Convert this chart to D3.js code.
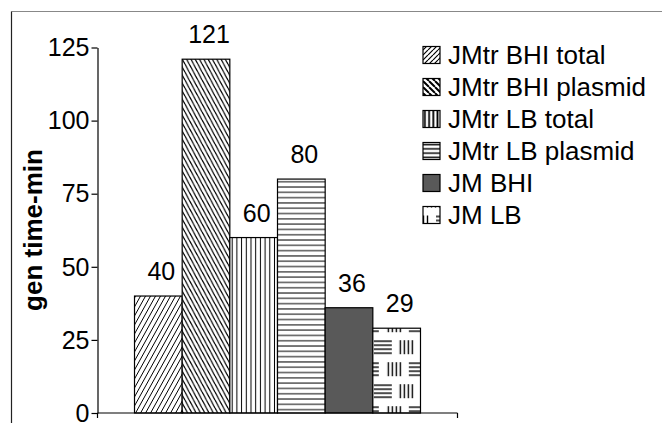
<!DOCTYPE html>
<html><head><meta charset="utf-8">
<script src="https://cdn.jsdelivr.net/npm/d3@7"></script>
<style>
html,body{margin:0;padding:0;background:#fff;}
svg{display:block;}
text{font-family:"Liberation Sans",Arial,sans-serif;fill:#000;}
</style></head>
<body>
<svg id="chart" width="662" height="423"></svg>
<script>
// ---- data ----
const categories = ["gen time"];
const series = ["JMtr BHI total","JMtr BHI plasmid","JMtr LB total","JMtr LB plasmid","JM BHI","JM LB"];
const values = [40,121,60,80,36,29];
const yTicks = [0,25,50,75,100,125];
const yTitle = "gen time-min";

// ---- layout ----
const W = 662, H = 423;
const svg = d3.select("#chart");
const defs = svg.append("defs");

const y = d3.scaleLinear().domain([0,125]).range([413,47.5]);
const x0 = d3.scaleBand().domain(categories).range([97.5,457.5]).paddingOuter(0.1294).paddingInner(0);
const x1 = d3.scaleBand().domain(series).range([x0(categories[0]), x0(categories[0]) + x0.bandwidth()]);

// ---- patterns ----
function diag(id, w, h, dir, sw){
  const p = defs.append("pattern").attr("id", id).attr("patternUnits","userSpaceOnUse")
    .attr("width", w).attr("height", h);
  p.append("rect").attr("width", w).attr("height", h).attr("fill","#fff");
  let d = "";
  for (const k of [-1,0,1]) {
    if (dir === "up") d += `M${k*w},${h}L${k*w+w},0`;
    else d += `M${k*w},0L${k*w+w},${h}`;
  }
  p.append("path").attr("d", d).attr("stroke","#000").attr("stroke-width", sw).attr("fill","none");
}
function vert(id, w, sw, ox){
  const p = defs.append("pattern").attr("id", id).attr("patternUnits","userSpaceOnUse")
    .attr("width", w).attr("height", 10).attr("x", ox||0);
  p.append("rect").attr("width", w).attr("height", 10).attr("fill","#fff");
  p.append("line").attr("x1", w/2).attr("x2", w/2).attr("y1",0).attr("y2",10)
    .attr("stroke","#000").attr("stroke-width", sw);
}
function horiz(id, h, sw, oy){
  const p = defs.append("pattern").attr("id", id).attr("patternUnits","userSpaceOnUse")
    .attr("width", 10).attr("height", h).attr("y", oy||0);
  p.append("rect").attr("width", 10).attr("height", h).attr("fill","#fff");
  p.append("line").attr("y1", h/2).attr("y2", h/2).attr("x1",0).attr("x2",10)
    .attr("stroke","#000").attr("stroke-width", sw);
}
function weave(id, ox, oy, s){
  const tw = 48*s, th = 44*s;
  const p = defs.append("pattern").attr("id", id).attr("patternUnits","userSpaceOnUse")
    .attr("width", tw).attr("height", th).attr("x", ox).attr("y", oy);
  p.append("rect").attr("width", tw).attr("height", th).attr("fill","#fff");
  const g = p.append("g").attr("transform", `scale(${s})`).attr("stroke","#000").attr("stroke-width",1.4);
  function hb(x, yy, wdt){ for (let i=0;i<4;i++) g.append("line").attr("x1",x).attr("x2",x+wdt).attr("y1",yy+1+i*4).attr("y2",yy+1+i*4); }
  function vb(x, yy, hgt){ for (let i=0;i<4;i++) g.append("line").attr("y1",yy).attr("y2",yy+hgt).attr("x1",x+1.5+i*4).attr("x2",x+1.5+i*4); }
  hb(1, 22, 18); vb(26, 22, 14);
  vb(14, 0, 14); hb(36, 0, 18); hb(-12, 0, 18);
}

diag("p0", 5, 9, "up", 1);
diag("p1", 4.3, 8, "down", 1.2);
vert("p2", 4.7, 1, x1(series[2]));
horiz("p3", 5.3, 1, y(values[3]));
weave("p5", x1(series[5]), y(values[5]) - 10, 1);

diag("l0", 5, 5, "up", 1.2);
diag("l1", 6, 6, "down", 2);
vert("l2", 4.2, 1.8, 424);
horiz("l3", 4.2, 1.5, 0);

const barFills = ["url(#p0)","url(#p1)","url(#p2)","url(#p3)","#595959","url(#p5)"];
const legFills = ["url(#l0)","url(#l1)","url(#l2)","url(#l3)","#595959","url(#l5)"];

// ---- frame ----
svg.append("line").attr("x1",11.5).attr("x2",W).attr("y1",11.5).attr("y2",11.5).attr("stroke","#888").attr("stroke-width",1.2);
svg.append("line").attr("x1",11.5).attr("x2",11.5).attr("y1",11.5).attr("y2",H).attr("stroke","#222").attr("stroke-width",1.2);

// ---- bars ----
svg.append("g").selectAll("rect").data(values).join("rect")
  .attr("x", (d,i) => x1(series[i]))
  .attr("y", d => y(d))
  .attr("width", x1.bandwidth())
  .attr("height", d => y(0) - y(d))
  .attr("fill", (d,i) => barFills[i])
  .attr("stroke", "#000").attr("stroke-width", 1.2);

// value labels
svg.append("g").selectAll("text").data(values).join("text")
  .attr("x", (d,i) => x1(series[i]) + x1.bandwidth()/2 + 3)
  .attr("y", d => y(d) - 16)
  .attr("text-anchor","middle")
  .style("font-size","25px")
  .text(d => d);

// ---- axes ----
const yAxis = d3.axisLeft(y).tickValues(yTicks).tickSize(6).tickSizeOuter(0).tickPadding(2);
const gy = svg.append("g").attr("transform", `translate(${x0.range()[0]},0)`).call(yAxis);
gy.selectAll("text").style("font-size","25px").style("font-family",'"Liberation Sans",Arial,sans-serif').attr("dy","0.33em");
gy.selectAll("line,path").attr("stroke","#000").attr("stroke-width",1.2);
svg.append("line").attr("x1",x0.range()[0]).attr("x2",x0.range()[0]).attr("y1",y(0)).attr("y2",y(0)+5).attr("stroke","#000").attr("stroke-width",1.2);

// x axis
const xr = x0.range();
svg.append("line").attr("x1",xr[0]).attr("x2",xr[1]).attr("y1",y(0)).attr("y2",y(0)).attr("stroke","#000").attr("stroke-width",1.2);
svg.append("line").attr("x1",xr[1]).attr("x2",xr[1]).attr("y1",y(0)).attr("y2",y(0)+5).attr("stroke","#000").attr("stroke-width",1.2);

// y title
svg.append("text").attr("transform","translate(33,230) rotate(-90)")
  .attr("text-anchor","middle").attr("dominant-baseline","central")
  .style("font-size","26px").style("font-weight","bold").text(yTitle);

// ---- legend ----
const legX = 423, legY0 = 55, legStep = 32, sw = 17;
weave("l5", legX - 14, legY0 + 5*legStep - 8.5 - 30, 1);
const lg = svg.append("g").selectAll("g").data(series).join("g")
  .attr("transform", (d,i) => `translate(${legX},${legY0 + i*legStep})`);
lg.append("rect").attr("x",0).attr("y",-sw/2).attr("width",sw).attr("height",sw)
  .attr("fill", (d,i) => legFills[i]).attr("stroke","#000").attr("stroke-width",1.2);
lg.append("text").attr("x", 25).attr("y", 9).style("font-size","26px").text(d => d);
</script>
</body></html>
